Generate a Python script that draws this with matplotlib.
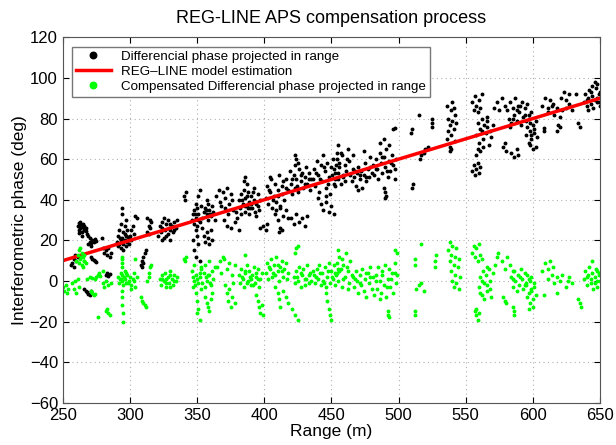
import matplotlib
matplotlib.use("Agg")
import matplotlib.pyplot as plt

plt.rcParams['font.family'] = ['Liberation Sans', 'DejaVu Sans']

# differencial phase (black), grouped by range band
black_250_350 = [
    (261, 27), (262, 28.5), (262, 25), (263, 26), (263, 29), (264, 27.5), (264, 24), (265, 26.5),
    (265, 28), (266, 25), (266, 27), (267, 24.5), (267, 26), (268, 23), (262, 23.5), (264, 22),
    (269, 22), (270, 21), (263.5, 27), (265.5, 25.5),
    (257, 9), (258, 11), (258, 7), (259, 13), (260, 10), (261, 12), (256, 8),
    (269, 18), (270, 19), (271, 18.5), (272, 20), (273, 19), (274, 20.5), (275, 19.5), (271, 17),
    (271, 12), (272, 11), (273, 10.5), (274, 10), (275, 9.5),
    (266, -4), (267, -5), (268, -5.5), (269, -6.5), (270, -7), (271, -5),
    (279, 21.3), (280, 16), (281, 14), (282, 15), (283, 13), (284, 16), (285, 12), (286, 14),
    (282, 3), (283, 4), (284, 2.5), (285, 3.5),
    (290, 19), (291, 22), (292, 18), (292, 25), (293, 20), (293, 28), (294, 33), (294, 36),
    (294, 21), (295, 18), (295, 24), (296, 20), (296, 27), (297, 17), (297, 22), (298, 19),
    (298, 25), (299, 21), (299, 18), (297, 30), (291, 17), (293, 16), (295, 15),
    (292.5, 21), (294.5, 19), (296.5, 23), (298.5, 21.5),
    (300, 22), (301, 25), (302, 27), (301, 20), (303, 23), (304, 32), (305, 31),
    (308, 8), (309, 10), (310, 12), (311, 14), (309, 7), (312, 15), (310, 9),
    (313, 24), (314, 27), (315, 30), (316, 29), (314, 23), (315, 26), (313, 31),
    (321, 22), (322, 27), (323, 24), (324, 29), (325, 31), (325, 21), (326, 25), (327, 28),
    (328, 23), (329, 26), (330, 20), (331, 27), (332, 24), (333, 29), (334, 26), (335, 30),
    (328, 30), (330, 25), (324, 20), (323.5, 26), (326.5, 22), (329.5, 28), (332.5, 25),
    (340, 42), (341, 40), (342, 44),
    (346, 30), (347, 33), (348, 35), (348, 28), (349, 38), (349, 31), (350, 36), (350, 27),
    (351, 42), (351, 33), (352, 45), (352, 29), (353, 37), (347, 20), (348, 15), (349, 12),
    (350, 22), (351, 18), (349, 25), (352, 10), (348.5, 33), (350.5, 30),
]
black_350_450 = [
    (355, 34), (356, 36), (357, 33), (358, 38), (359, 35), (360, 32), (361, 37), (362, 34),
    (354, 31), (357, 40), (363, 30), (358, 30), (356.5, 35), (359.5, 33),
    (354, 26), (355, 22), (356, 19), (357, 24), (358, 21), (359, 18), (360, 25), (361, 20),
    (364, 42), (366, 45), (367, 39), (369, 44), (371, 41), (372, 46), (374, 38), (375, 43),
    (368, 37), (376, 40),
    (370, 30), (372, 27), (373, 33), (375, 26), (377, 35), (378, 29), (380, 31), (381, 25),
    (379, 34), (371, 36),
    (381, 40), (382, 36), (383, 43), (384, 38), (385, 45), (386, 34), (386, 41), (387, 37),
    (388, 44), (389, 39), (389, 33), (390, 42), (391, 36), (392, 46), (392, 40), (393, 34),
    (394, 38), (395, 43), (396, 35), (397, 40), (385, 49), (386, 51), (387, 48), (383, 33),
    (388, 36), (390, 38), (394, 32), (383.5, 40), (385.5, 37), (387.5, 42), (389.5, 36),
    (391.5, 44), (393.5, 39), (395.5, 37),
    (397, 26), (399, 27), (401, 25), (402, 28),
    (401, 41), (402, 47), (403, 38), (404, 44), (405, 50), (406, 36), (407, 42), (408, 48),
    (409, 39), (410, 45), (411, 52), (412, 37), (413, 43), (414, 49), (415, 40), (416, 46),
    (404, 51), (409, 35), (403.5, 45), (406.5, 40), (410.5, 42), (413.5, 47),
    (408, 33), (410, 30), (412, 36), (414, 32), (416, 35), (418, 31), (411, 24), (412, 26),
    (413, 25),
    (416, 50), (418, 45), (419, 54), (420, 48), (421, 43), (422, 52), (423, 57), (423, 46),
    (424, 50), (425, 44), (426, 55), (427, 49), (428, 53), (429, 46), (430, 51), (431, 56),
    (432, 48), (433, 53), (434, 45), (435, 50), (424, 60), (425, 58), (423, 62),
    (420.5, 50), (424.5, 47), (427.5, 52), (430.5, 48), (433.5, 50),
    (420, 31), (422, 28), (424, 33), (426, 29), (428, 31), (430, 27), (432, 32),
    (436, 50), (437, 55), (438, 47), (439, 59), (440, 52), (441, 44), (442, 57), (443, 49),
    (444, 62), (445, 54), (446, 46), (447, 58), (448, 51), (449, 43), (450, 56), (451, 60),
    (452, 48), (453, 53), (454, 63), (455, 50), (440, 41), (446, 42),
    (438.5, 53), (441.5, 50), (444.5, 56), (447.5, 48), (450.5, 52), (453.5, 57),
    (442, 38), (444, 35), (446, 39), (448, 34), (450, 37),
]
black_450_550 = [
    (452, 55), (453, 50), (454, 60), (455, 53), (456, 58), (457, 48), (458, 62), (459, 51),
    (460, 57), (461, 54), (462, 65), (463, 59), (455, 67), (453, 47), (457, 63), (460, 49),
    (455.5, 56), (458.5, 52), (461.5, 60),
    (452, 33),
    (464, 52), (465, 49), (466, 55), (467, 51), (468, 47), (469, 53), (470, 56), (471, 50),
    (472, 54), (473, 46), (474, 52), (475, 58), (476, 49), (477, 55), (478, 51), (479, 61),
    (480, 53), (466, 62), (470, 45), (474, 64),
    (467.5, 54), (471.5, 52), (475.5, 51), (478.5, 56),
    (481, 57), (482, 52), (483, 60), (484, 55), (485, 50), (486, 63), (487, 58), (488, 53),
    (489, 61), (490, 56), (491, 65), (492, 51), (493, 59), (494, 54), (495, 62), (496, 57),
    (497, 50), (498, 60), (486, 68), (489, 70), (493, 67), (496, 75), (497, 75.5),
    (483.5, 55), (487.5, 61), (491.5, 54), (494.5, 58), (497.5, 55),
    (489, 46), (490, 44), (491, 42), (490, 41),
    (510, 46), (511, 48), (509.5, 73), (510, 75), (515, 82), (516, 60), (517, 62), (519, 63),
    (520, 65), (522, 66), (525, 76), (525, 78), (525, 80),
    (536, 70), (537, 74), (537, 80), (538, 66), (538, 77), (539, 84), (539, 72), (540, 88),
    (540, 79), (541, 75), (541, 85), (542, 82), (542, 69), (543, 78), (536, 86), (538, 64),
    (539, 65),
]
black_550_650 = [
    (555, 88), (556, 84), (557, 91), (558, 86), (559, 83), (560, 89), (561, 85), (562, 92),
    (558, 72), (559, 78), (560, 68), (561, 75), (562, 80), (563, 70), (564, 77), (565, 73),
    (566, 79), (567, 67), (568, 74), (569, 71), (570, 77), (563, 66), (566, 81), (561, 64),
    (558, 62), (559, 65), (562.5, 74), (565.5, 76),
    (555, 54), (556, 57), (557, 52), (558, 55), (559, 58), (560, 53), (561, 56),
    (571, 85), (573, 88), (575, 84), (577, 90), (579, 86),
    (578, 66), (579, 68), (580, 64),
    (581, 84), (582, 80), (583, 88), (584, 78), (585, 85), (586, 82), (587, 90), (588, 79),
    (589, 86), (590, 83), (591, 77), (592, 88), (593, 81), (594, 85), (595, 79), (596, 87),
    (597, 82), (598, 78), (583, 76), (588, 84), (585.5, 80), (590.5, 86), (594.5, 82),
    (584, 63), (586, 61), (588, 65), (589, 62),
    (595, 72), (596, 76), (597, 68), (597, 80), (598, 74), (599, 70), (599, 83), (600, 77),
    (601, 73), (602, 66), (602, 79), (603, 71), (600, 65), (598, 67), (598.5, 72), (600.5, 75),
    (607, 86), (609, 90), (611, 85), (613, 89), (615, 87), (608, 74), (608, 75.5),
    (611, 83), (614, 86), (616, 82), (618, 85), (620, 81), (622, 84),
    (618, 74), (619, 77), (620, 76),
    (621, 90), (623, 93), (625, 89), (627, 92),
    (625, 85), (627, 87), (629, 84),
    (635, 76), (634, 78), (632, 92),
    (638, 88), (639, 92), (640, 86), (641, 90), (642, 94), (643, 87), (644, 91), (645, 85),
    (646, 89), (647, 95), (648, 88), (649, 92), (650, 86), (646, 98), (648, 97), (650, 93),
    (644, 96), (641, 84), (640.5, 89), (643.5, 93), (647.5, 90), (649.5, 88),
]

# compensated differencial phase (green)
green_250_350 = [
    (250, -3), (251, -5), (252, -2), (253, -6), (254, -4),
    (257, -1), (258, -4), (259, 0), (260, -6), (261, 1), (262, -3),
    (260, 10), (261, 13), (262, 9), (262, 15), (263, 11), (264, 8), (264, 14), (265, 12),
    (266, 10), (266, 13), (267, 9), (263, 16), (265, 7), (263.5, 12), (265.5, 10),
    (268, 1), (270, 2), (272, 1.5), (274, 1), (275, 2),
    (271, -5), (272, -6), (273, -7), (274, -6.5),
    (276, 3), (277, 4), (278, 2.5), (280, 5),
    (280, -1), (281, -3), (282, 0), (284, -2), (286, -1),
    (282, -15), (283, -14), (284, -16), (285, -17), (276, -18),
    (291, 2), (292, -1), (293, 4), (294, 0), (294, 3), (295, -2), (296, 5), (296, 1),
    (297, -1), (298, 3), (299, 0), (300, 2), (301, -2), (293, 1), (297, 4),
    (292.5, 1), (295.5, 2), (298.5, -1),
    (294, 7), (294, 9), (294, 11), (294, 12),
    (294, -8), (294, -12), (295, -16), (295, -20), (294, -5),
    (301, -4), (302, 1), (303, 4), (304, -3), (305, 2), (304, 11), (303, 0),
    (308, -8), (309, -10), (310, -11), (311, -12), (312, -13),
    (313, 0), (314, 4), (315, 7), (316, 8), (314, 2),
    (322, 1), (323, -2), (324, 3), (325, 0), (326, 4), (327, -3), (328, 2), (329, -1),
    (330, 5), (331, 1), (332, -2), (333, 3), (334, 0), (335, 2), (327, 1), (330, -3),
    (323.5, 1), (326.5, -1), (329.5, 3), (332.5, 0),
    (340, 11), (341, 10), (342, 12),
    (346, 5), (347, 2), (347, -3), (348, 0), (348, 8), (349, -6), (349, 3), (350, -10),
    (350, 1), (351, -14), (351, -1), (352, -19), (352, 4), (353, -4), (353, 7), (350, -16),
    (348.5, -2),
]
green_350_450 = [
    (352, 2), (353, 6), (354, -1), (355, 4), (356, 8), (357, 0), (358, 3), (359, 10),
    (360, -2), (361, 5), (362, 1), (363, 7), (356, -3), (359, 3), (356.5, 2), (359.5, -1),
    (356, -8), (357, -11), (358, -13), (359, -15), (360, -9), (361, -6),
    (365, 7), (367, 10), (368, 4), (370, 11), (372, 6), (374, 9), (376, 3), (378, 8), (369, 12),
    (371, -2), (372, -6), (373, -10), (374, -4), (375, -13), (376, -8), (377, -1), (378, -11),
    (381, 3), (382, -1), (383, 6), (384, 1), (385, -3), (386, 4), (387, 8), (388, 0),
    (389, 5), (390, -2), (391, 3), (392, 7), (393, -1), (394, 2), (395, 6), (396, -3),
    (397, 1), (398, 4), (386, 13), (390, 1),
    (383.5, 2), (385.5, 5), (387.5, -1), (389.5, 2), (391.5, -2), (393.5, 4), (395.5, 1),
    (394, -7), (395, -10), (396, -13), (397, -16), (398, -12), (399, -17),
    (401, 4), (402, 9), (403, 1), (404, 6), (405, 11), (406, 2), (407, 8), (408, 3),
    (409, 12), (410, 5), (411, 0), (412, 7), (413, 10), (414, 2), (415, 6), (416, 9),
    (417, 1), (418, 4), (403.5, 7), (406.5, 4), (410.5, 8), (413.5, 5),
    (408, -3), (410, -6), (411, -9), (412, -13), (414, -5), (416, -8), (418, -11),
    (422, 2), (423, -1), (424, 5), (425, 0), (426, 7), (427, -3), (428, 3), (429, 6),
    (430, -2), (431, 1), (432, 8), (433, -1), (434, 4), (435, 0), (436, 5),
    (424.5, 2), (427.5, 4), (430.5, 1), (433.5, 3),
    (423, 14), (424, 16), (425, 17),
    (421, -14), (423, -17), (425, -19),
    (437, 3), (438, -1), (439, 6), (440, 1), (441, 8), (442, -2), (443, 4), (444, 0),
    (445, 7), (446, -3), (447, 2), (448, 9), (449, -1), (450, 5), (451, 1), (452, 8),
    (453, -2), (454, 4), (455, 6),
    (438.5, 2), (441.5, 4), (444.5, -1), (447.5, 5), (450.5, 2), (453.5, 3),
    (446, -6), (447, -10), (448, -14), (449, -17), (450, -19),
]
green_450_550 = [
    (453, 4), (454, 9), (455, 0), (456, 12), (457, 6), (458, -3), (459, 8), (460, 2),
    (461, 14), (462, 5), (463, -1), (464, 10), (465, 3), (455, 15), (458, 11), (462, -4),
    (455.5, 5), (458.5, 1), (461.5, 7),
    (466, 2), (467, -3), (468, 5), (469, 0), (470, -6), (471, 3), (472, -2), (473, 6),
    (474, -5), (475, 1), (476, -8), (477, 4), (478, -1), (479, 7), (480, -4), (481, 2),
    (482, -7), (467.5, 1), (471.5, -1), (475.5, 4), (478.5, 2),
    (483, 3), (484, -4), (485, 7), (486, 0), (487, -6), (488, 5), (489, -2), (490, 8),
    (491, -8), (492, 1), (493, 6), (494, -3), (495, 4), (496, -6), (497, 9), (498, -1),
    (499, 3), (497, 15), (499, 14), (486, -9),
    (483.5, 0), (487.5, 3), (491.5, -3), (494.5, 1), (497.5, 4),
    (492, -15), (492, -17), (493, -18),
    (512, -15), (512, -17), (512, 8), (512, 11), (513, -4), (515, -2), (517, -1), (519, -5),
    (517, 18), (527, 7), (527, 10), (528, 13),
    (537, 15), (538, 19), (538, 10), (539, 13), (539, 5), (540, 17), (540, 0), (541, 8),
    (541, -3), (542, 12), (542, 3), (543, -1), (543, 16), (544, 7), (545, -4), (545, 11),
    (546, 2),
]
green_550_650 = [
    (555, 14), (556, 17), (557, 12), (558, 16), (559, 10), (560, 18), (561, 13), (562, 11),
    (560, -3), (561, 2), (562, -7), (563, 5), (564, -1), (565, 3), (566, -5), (567, 6),
    (568, 0), (569, -8), (570, 4), (564, -9), (566, 7), (568, -4), (561, -6),
    (562.5, 0), (565.5, -2),
    (557, -15), (558, -17), (559, -19), (560, -16), (558, -14),
    (572, 8), (573, 12), (574, 14),
    (578, -8), (579, -10), (580, -11),
    (577, 10), (579, 6), (581, 12), (583, 8), (585, 5),
    (584, 2), (585, -3), (586, 5), (587, 0), (588, -5), (589, 3), (590, -2), (591, 6),
    (592, 1), (593, -4), (594, 4), (595, -1), (596, 3), (597, -6), (598, 0),
    (585.5, 1), (590.5, 2), (594.5, -2),
    (585, -13), (586, -15), (586, -17),
    (595, -2), (596, -8), (597, 1), (598, -11), (599, -4), (600, -13), (601, -1), (602, -7),
    (599, 2), (600, -9), (597, -14), (598.5, -5), (600.5, -3),
    (607, 5), (609, 9), (611, 6), (613, 10), (615, 7), (608, -7),
    (611, 1), (614, 3), (616, -1), (618, 2), (620, 0), (622, 3),
    (618, -6),
    (625, -3), (627, 2), (629, -1), (626, 0),
    (634, -9), (635, -11), (636, -13),
    (638, 1), (639, 5), (640, -2), (641, 3), (642, 7), (643, -1), (644, 4), (645, -4),
    (646, 2), (647, 6), (648, -3), (649, 3), (650, 0), (644, 10), (646, -1), (648, 5),
    (640.5, 2), (643.5, 1), (647.5, 0), (649.5, 4),
]

# REG-LINE model end points
model_range = [250, 650]
model_phase = [10, 90]

black = black_250_350 + black_350_450 + black_450_550 + black_550_650
green = green_250_350 + green_350_450 + green_450_550 + green_550_650

fig = plt.figure(figsize=(6.16, 4.45), dpi=100)
ax = fig.add_axes([0.102, 0.095, 0.872, 0.821])

bx, by = zip(*black)
gx, gy = zip(*green)
ax.plot(bx, by, linestyle="none", marker="o", markersize=1.8, color="black",
        label="Differencial phase projected in range")
ax.plot(model_range, model_phase, color="#ff0000", linewidth=2.5,
        label="REG\u2013LINE model estimation")
ax.plot(gx, gy, linestyle="none", marker="o", markersize=1.8, color="#00ff00",
        label="Compensated Differencial phase projected in range")

ax.set_xlim(250, 650)
ax.set_ylim(-60, 120)
ax.set_xticks(range(250, 651, 50))
ax.set_yticks(range(-60, 121, 20))
ax.grid(True, linestyle=(0, (1, 3)), color="#b0b0b0", linewidth=0.8)
ax.tick_params(direction="in", top=True, right=True, labelsize=12, length=4)
for s in ax.spines.values():
    s.set_color("#555555")

ax.set_title("REG-LINE APS compensation process", fontsize=13, pad=10)
ax.set_xlabel("Range (m)", fontsize=12.5, labelpad=1)
ax.set_ylabel("Interferometric phase (deg)", fontsize=12.5, labelpad=2)

leg = ax.legend(loc="upper left", fontsize=9.6, markerscale=2.6, fancybox=False,
                framealpha=1, edgecolor="#777777", borderaxespad=0.7,
                handlelength=2.6, labelspacing=0.2, borderpad=0.3)
leg.get_frame().set_linewidth(1.0)

plt.savefig("out.png", dpi=100)
